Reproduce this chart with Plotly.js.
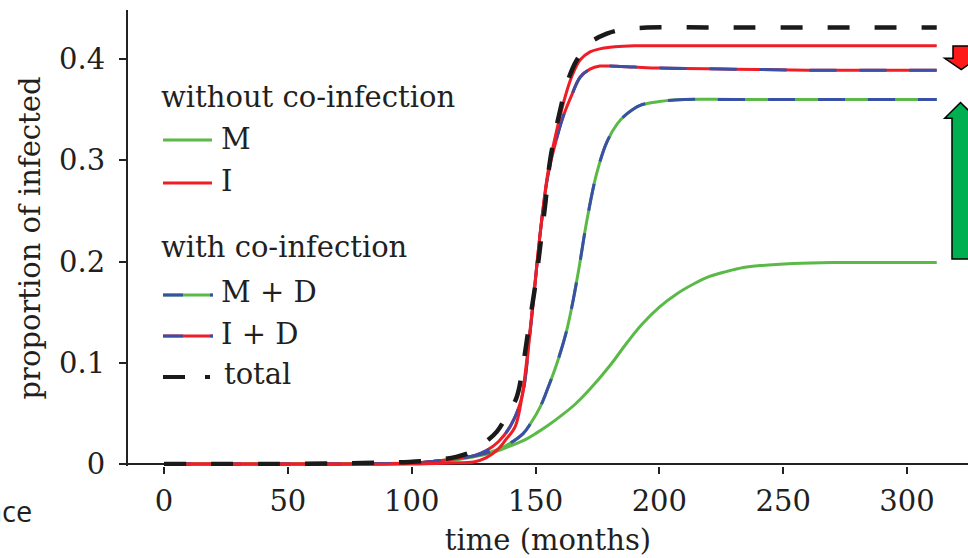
<!DOCTYPE html>
<html>
<head>
<meta charset="utf-8">
<script src="https://cdn.plot.ly/plotly-3.0.1.min.js"></script>
<style>
  html, body { margin: 0; padding: 0; background: #fff; }
  #chart { width: 968px; height: 558px; }
</style>
</head>
<body>
<div id="chart"></div>
<script>
// ---- data ----
var xTicks = [0, 50, 100, 150, 200, 250, 300];
var yTicks = [0, 0.1, 0.2, 0.3, 0.4];
var yTickText = ["0", "0.1", "0.2", "0.3", "0.4"];

// without co-infection: M
var tM = [0, 50, 100, 110, 120, 131.7, 140, 145, 150, 155, 160, 166, 172, 180, 187, 193, 200, 207, 214, 220, 227, 234, 241, 254, 270, 290, 312];
var valM = [0, 0, 0.001, 0.002, 0.005, 0.0105, 0.018, 0.023, 0.030, 0.038, 0.047, 0.059, 0.074, 0.097, 0.120, 0.138, 0.155, 0.168, 0.178, 0.185, 0.190, 0.194, 0.196, 0.198, 0.199, 0.199, 0.199];

// without co-infection: I
var tI = [0, 50, 100, 115, 125, 130, 135, 138, 141.8, 144.5, 147.8, 150, 151.9, 155, 158.6, 162, 165, 168, 172, 176, 182, 190, 200, 250, 312];
var valI = [0, 0, 0, 0.001, 0.002, 0.006, 0.015, 0.024, 0.037, 0.066, 0.132, 0.183, 0.228, 0.288, 0.330, 0.363, 0.385, 0.399, 0.407, 0.410, 0.412, 0.413, 0.413, 0.413, 0.413];

// with co-infection: M + D
var tMD = [0, 50, 100, 110, 120, 125, 132, 138, 145, 148, 152, 155, 158.6, 162.6, 165.3, 168, 170.7, 174.7, 178.8, 183, 187, 192, 200, 210, 230, 260, 312];
var valMD = [0, 0, 0.001, 0.003, 0.006, 0.008, 0.012, 0.018, 0.030, 0.040, 0.057, 0.075, 0.099, 0.132, 0.163, 0.200, 0.240, 0.287, 0.318, 0.336, 0.346, 0.354, 0.358, 0.360, 0.360, 0.360, 0.360];

// with co-infection: I + D
var tID = [0, 50, 100, 110, 120, 125, 130, 135, 140, 144.5, 147.8, 151.9, 155, 158.6, 161, 164.4, 168, 172, 176, 180, 190, 200, 230, 260, 312];
var valID = [0, 0, 0.001, 0.003, 0.006, 0.008, 0.013, 0.022, 0.038, 0.066, 0.130, 0.228, 0.285, 0.322, 0.342, 0.363, 0.382, 0.390, 0.393, 0.393, 0.392, 0.391, 0.390, 0.389, 0.389];

// with co-infection: total
var tTot = [0, 40, 80, 99, 110, 118, 125, 130, 134.4, 138, 142.4, 145, 147.1, 150, 151.9, 154, 155.9, 160, 163, 166.7, 172, 178.8, 185, 195, 230, 270, 312];
var valTot = [0, 0, 0.001, 0.002, 0.004, 0.007, 0.013, 0.022, 0.032, 0.046, 0.066, 0.098, 0.132, 0.178, 0.215, 0.258, 0.300, 0.350, 0.378, 0.399, 0.416, 0.425, 0.429, 0.431, 0.431, 0.431, 0.431];

// ---- styles ----
var GREEN = "#5AB947", RED = "#EF1D26", BLUE = "#3A50A6", BLACK = "#1A1A1A", INK = "#231F20";
var SERIF = "DejaVu Serif";

function ln(color, width, dash) {
  return { color: color, width: width, dash: dash || "solid", shape: "spline", smoothing: 1 };
}

var traces = [
  { x: tM, y: valM, mode: "lines", line: ln(GREEN, 3), name: "M", hoverinfo: "skip" },
  { x: tMD, y: valMD, mode: "lines", line: ln(GREEN, 3), name: "M + D", hoverinfo: "skip" },
  { x: tMD, y: valMD, mode: "lines", line: ln(BLUE, 3, "27px,23px"), name: "M + D (D)", hoverinfo: "skip" },
  { x: tID, y: valID, mode: "lines", line: ln(RED, 3), name: "I + D", hoverinfo: "skip" },
  { x: tID, y: valID, mode: "lines", line: ln(BLUE, 3, "27px,23px"), name: "I + D (D)", hoverinfo: "skip" },
  { x: tI, y: valI, mode: "lines", line: ln(RED, 3), name: "I", hoverinfo: "skip" },
  { x: tTot, y: valTot, mode: "lines", line: ln(BLACK, 4.5, "22px,25px"), name: "total", hoverinfo: "skip" }
];

// ---- pixel helpers for decorations (plot area: x 128..968, y 10..466) ----
var PL = 128, PW = 840, PB = 466, PH = 456;
function px(x) { return (x - PL) / PW; }
function py(y) { return (PB - y) / PH; }

var shapes = [];
function seg(x0, x1, y, color, w) {
  shapes.push({ type: "line", xref: "paper", yref: "paper", x0: px(x0), x1: px(x1), y0: py(y), y1: py(y),
    line: { color: color, width: w } });
}
// legend samples
seg(163, 212, 140, GREEN, 3);
seg(163, 212, 183, RED, 3);
seg(163, 213, 295, GREEN, 3); seg(163, 183, 295, BLUE, 3); seg(210, 213, 295, BLUE, 3);
seg(163, 213, 336, RED, 3); seg(163, 183, 336, BLUE, 3); seg(210, 213, 336, BLUE, 3);
seg(163, 185, 377, BLACK, 4); seg(205, 210, 377, BLACK, 4);

function poly(pts, fill) {
  var d = pts.map(function (p, i) { return (i ? "L" : "M") + px(p[0]).toFixed(5) + "," + py(p[1]).toFixed(5); }).join(" ") + " Z";
  shapes.push({ type: "path", xref: "paper", yref: "paper", path: d, fillcolor: fill, line: { color: "#000", width: 1.5 } });
}
// red down arrow
poly([[953, 46], [970, 46], [970, 58.3], [977.5, 58.3], [961.3, 69.5], [944.7, 58.3], [953, 58.3]], "#FF1A1A");
// green up arrow
poly([[960.5, 102.5], [976.5, 118.3], [969, 118.3], [969, 259], [952, 259], [952, 118.3], [944.7, 118.3]], "#00B050");

function txt(s, x, y, size, anchor, fam) {
  return { text: s, xref: "paper", yref: "paper", x: px(x), y: py(y), xanchor: anchor || "left", yanchor: "middle",
    showarrow: false, font: { family: fam || SERIF, size: size || 29, color: INK } };
}
var annotations = [
  txt("without co-infection", 159, 97),
  txt("M", 219, 139),
  txt("I", 219, 181),
  txt("with co-infection", 159, 247),
  txt("M + D", 219, 292),
  txt("I + D", 219, 334),
  txt("total", 222, 374),
  txt("ace", 34, 511, 29, "right", "Open Sans")
];

var layout = {
  width: 968, height: 558,
  margin: { l: PL, r: 0, t: 10, b: 92 },
  paper_bgcolor: "#fff", plot_bgcolor: "#fff",
  showlegend: false,
  font: { family: SERIF, color: INK },
  xaxis: {
    range: [(PL - 164) / 2.4767, (968 - 164) / 2.4767],
    tickvals: xTicks, ticktext: xTicks.map(String),
    showgrid: false, zeroline: false, showline: false,
    ticks: "outside", ticklen: 7, tickwidth: 2, tickcolor: "#222",
    ticklabelstandoff: 2,
    tickfont: { family: SERIF, size: 29, color: INK },
    automargin: false,
    title: { text: "time (months)", font: { family: SERIF, size: 29, color: INK }, standoff: 12 }
  },
  yaxis: {
    range: [-2 / 1012.5, (PB - 2 - 10) / 1012.5],
    tickvals: yTicks, ticktext: yTickText,
    showgrid: false,
    zeroline: true, zerolinecolor: "#222", zerolinewidth: 2,
    showline: true, linecolor: "#222", linewidth: 2,
    ticks: "outside", ticklen: 7, tickwidth: 2, tickcolor: "#222",
    ticklabelstandoff: 8,
    tickfont: { family: SERIF, size: 29, color: INK },
    automargin: false,
    title: { text: "proportion of infected", font: { family: SERIF, size: 29, color: INK }, standoff: 10 }
  },
  shapes: shapes,
  annotations: annotations
};

Plotly.newPlot("chart", traces, layout, { staticPlot: true, displayModeBar: false });
</script>
</body>
</html>
